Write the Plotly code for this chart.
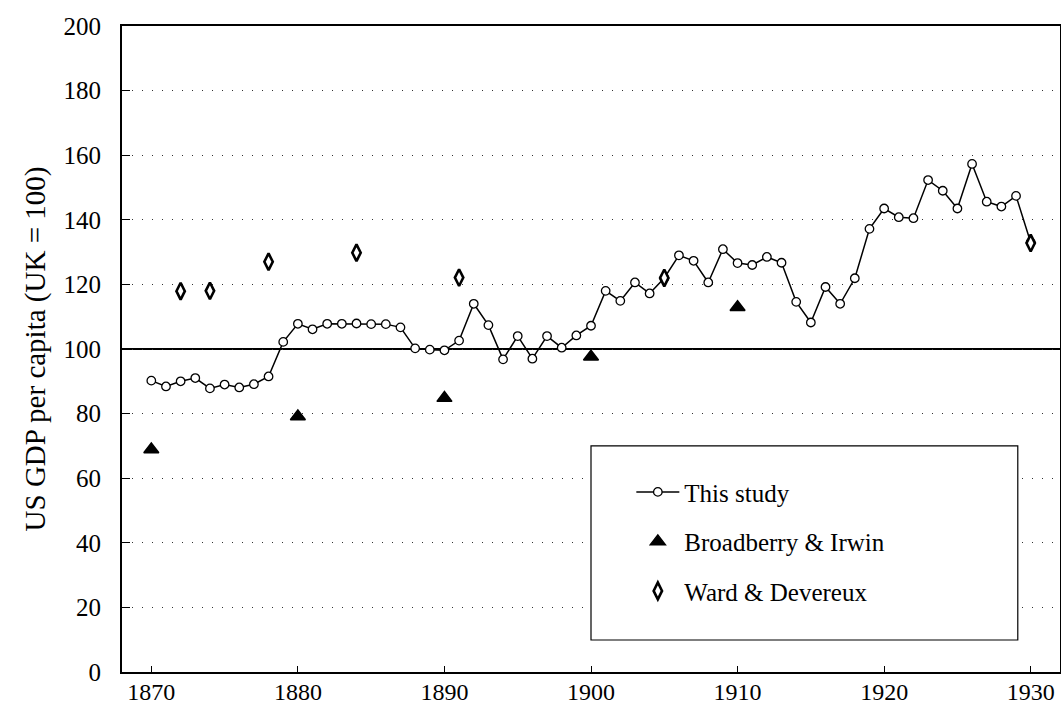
import plotly.graph_objects as go

years = list(range(1870, 1931))
this_study = [90.2, 88.4, 90.0, 91.0, 87.8, 89.0, 88.1, 89.1, 91.5, 102.2,
              107.8, 106.1, 107.8, 107.8, 107.9, 107.7, 107.7, 106.7, 100.2, 99.8,
              99.6, 102.6, 114.0, 107.4, 96.8, 104.0, 97.0, 104.0, 100.4, 104.2,
              107.2, 118.0, 114.9, 120.6, 117.2, 122.0, 129.0, 127.3, 120.6, 130.9,
              126.6, 126.0, 128.5, 126.7, 114.6, 108.2, 119.2, 114.0, 121.9, 137.2,
              143.5, 140.8, 140.5, 152.3, 149.0, 143.5, 157.3, 145.6, 144.1, 147.4,
              133.0]

bi_years = [1870, 1880, 1890, 1900, 1910]
bi_values = [68.9, 79.1, 84.8, 97.6, 112.9]

wd_years = [1872, 1874, 1878, 1884, 1891, 1905, 1930]
wd_values = [117.9, 118.0, 127.0, 129.8, 122.1, 122.0, 132.8]

x_ticks = [1870, 1880, 1890, 1900, 1910, 1920, 1930]
y_ticks = [0, 20, 40, 60, 80, 100, 120, 140, 160, 180, 200]

FONT = "Liberation Serif, DejaVu Serif, serif"

fig = go.Figure()
fig.add_trace(go.Scatter(
    x=years, y=this_study, mode="lines+markers", name="This study",
    line=dict(color="black", width=1.5),
    marker=dict(symbol="circle", size=8.5, color="white", line=dict(color="black", width=1.3)),
    legendgroup="a",
))
fig.add_trace(go.Scatter(
    x=bi_years, y=bi_values, mode="markers", name="Broadberry &amp; Irwin",
    marker=dict(symbol="triangle-up", size=13, color="black", line=dict(color="black", width=1.5)),
    legendgroup="b",
))
fig.add_trace(go.Scatter(
    x=wd_years, y=wd_values, mode="markers", name="Ward &amp; Devereux",
    marker=dict(symbol="diamond-tall", size=12, color="white", line=dict(color="black", width=2.6)),
    legendgroup="c",
))

# reference line at 100
fig.add_shape(type="line", xref="paper", yref="y", x0=0, x1=1, y0=100, y1=100,
              line=dict(color="black", width=2), layer="below")
# legend box
fig.add_shape(type="rect", xref="paper", yref="paper", x0=0.5, x1=0.955, y0=0.0495, y1=0.35,
              line=dict(color="black", width=1.2), fillcolor="white", layer="above")

fig.update_layout(
    width=1061, height=706,
    margin=dict(l=122, r=1, t=26, b=34),
    paper_bgcolor="white", plot_bgcolor="white",
    font=dict(family=FONT, size=25, color="black"),
    showlegend=True,
    legend=dict(x=0.543, y=0.314, xanchor="left", yanchor="top",
                bgcolor="rgba(0,0,0,0)", borderwidth=0,
                font=dict(family=FONT, size=25, color="black"),
                tracegroupgap=14, itemwidth=43),
    xaxis=dict(range=[1868, 1932], tickvals=x_ticks, ticks="inside", ticklen=6,
               tickwidth=1.2, tickcolor="black", showgrid=False, zeroline=False,
               showline=True, linecolor="black", linewidth=2, mirror=True,
               tickfont=dict(family=FONT, size=24), ticklabelstandoff=-3,
               automargin=False),
    yaxis=dict(range=[0, 200], tickvals=y_ticks, ticks="inside", ticklen=8,
               tickwidth=1.2, tickcolor="black", showgrid=True, gridcolor="#333",
               gridwidth=1.3, griddash="1px,9px", zeroline=False,
               showline=True, linecolor="black", linewidth=2, mirror=True,
               tickfont=dict(family=FONT, size=25), ticklabelstandoff=14,
               title=dict(text="US GDP per capita (UK = 100)", standoff=9,
                          font=dict(family=FONT, size=29)),
               automargin=False),
)

fig.write_html("out.html", config={"displayModeBar": False},
               post_script="document.body.style.margin='0';document.body.style.padding='0';")
